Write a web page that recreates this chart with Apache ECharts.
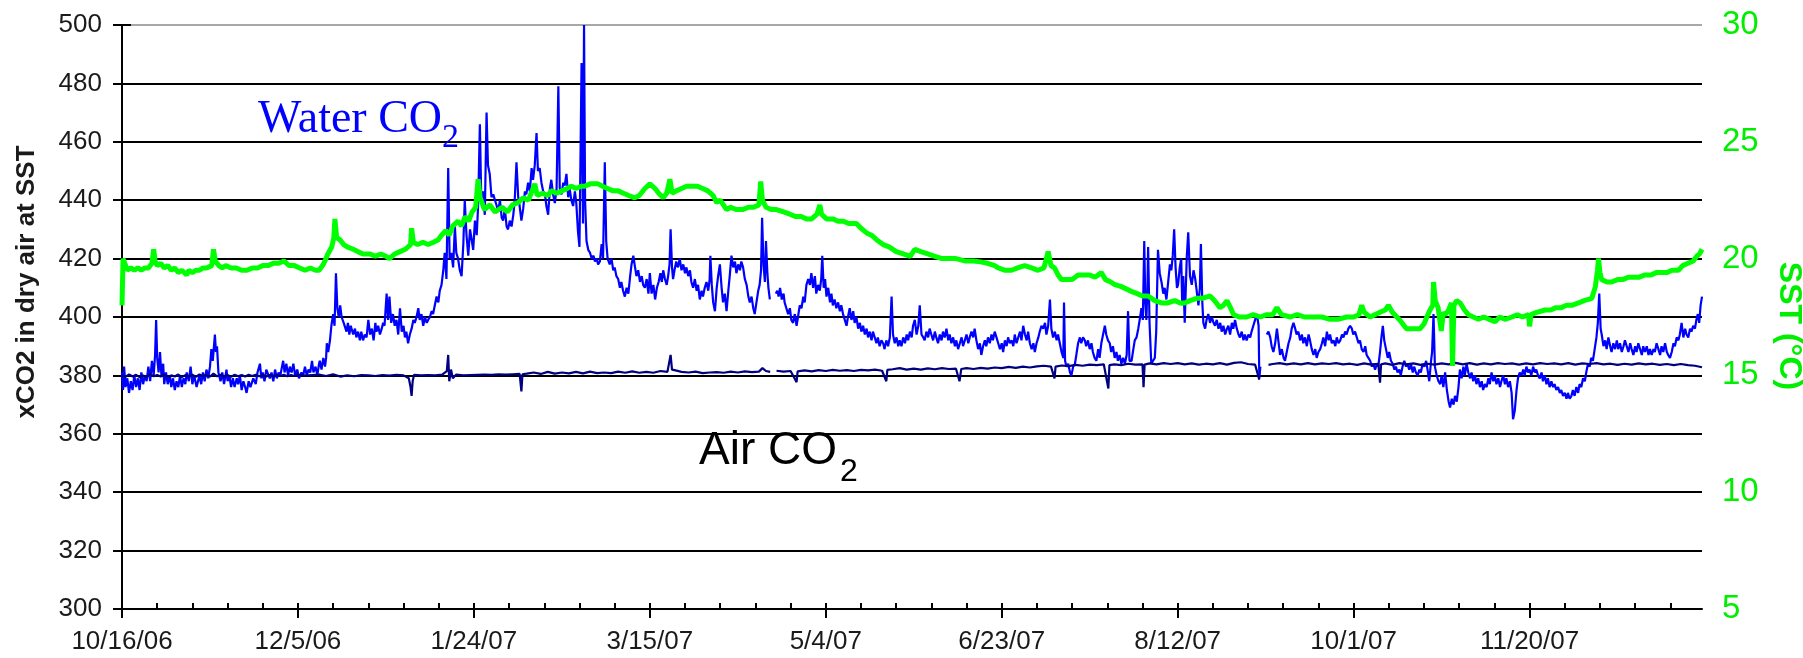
<!DOCTYPE html>
<html>
<head>
<meta charset="utf-8">
<script src="https://cdn.jsdelivr.net/npm/echarts@6/dist/echarts.min.js"></script>
<style>
html,body{margin:0;padding:0;background:#fff;}
#chart{width:1803px;height:658px;}
</style>
</head>
<body>
<div id="chart"></div>
<script>
// x values are days since 10/16/06
const startDate = [2006, 9, 16];
const majorTickDays = [0,50,100,150,200,250,300,350,400];
const minorTickDays = [0,10,20,30,40,50,60,70,80,90,100,110,120,130,140,150,160,170,180,190,200,210,220,230,240,250,260,270,280,290,300,310,320,330,340,350,360,370,380,390,400,410,420,430,440];
const dayMax = 449;
const co2Ticks = [300,500,20];
const sstTicks = [5,30,5];

// Water CO2 (xCO2, ppm)
const waterCO2 = [
[0,381],[0.3,375],[0.6,383],[1,376],[1.5,379],[2,374],[2.5,378],[3,375],[3.5,380],[4,376],[4.5,379],[5,375],[5.5,381],[6,377],[6.5,380],[7,378],[7.5,383],[8,378],[8.5,385],[9,380],[9.4,387],[9.7,399],[10,386],[10.4,381],[10.8,388],[11.2,380],[11.7,384],[12,377],[12.5,381],[13,377],[13.6,380],[14,376],[14.5,379],[15,375],[15.5,378],[16,376],[16.5,380],[17,376],[17.5,379],[18,377],[18.4,381],[19,378],[19.5,383],[20,377],[20.5,380],[21.2,376],[22,380],[22.5,377],[23,381],[23.5,378],[24,382],[24.5,379],[25,383],[25.4,389],[25.8,385],[26.2,391],[26.4,394],[26.7,388],[27,390],[27.4,381],[28,378],[28.5,381],[29,377],[29.7,382],[30,378],[30.5,380],[31,376],[31.5,379],[32,376],[32.6,379],[33,377],[33.5,380],[34,375],[34.5,378],[35,376],[35.4,374],[36,378],[36.5,376],[37.3,379],[38,377],[38.5,381],[39.2,384],[39.6,379],[40,381],[40.5,378],[41,382],[42,379],[42.5,381],[43,378],[43.5,382],[44,379],[44.5,381],[45,380],[45.8,385],[46.2,381],[46.7,384],[47.2,380],[47.7,383],[48.2,381],[48.7,384],[49.2,380],[49.8,382],[50.3,379],[51,381],[51.5,380],[52,383],[52.5,380],[53,382],[53.5,381],[54,385],[54.4,381],[55,383],[55.5,380],[56,384],[56.2,385],[56.7,382],[57.2,386],[57.7,383],[58,386],[58.2,391],[58.6,388],[59.1,392],[59.5,397],[60,401],[60.4,397],[60.8,415],[61.2,403],[61.6,400],[62,404],[62.4,400],[63,398],[63.8,395],[64.2,398],[64.6,394],[65,397],[65.7,394],[66.2,396],[66.6,393],[67.1,395],[67.6,392],[68,395],[68.5,392],[69,394],[69.5,393],[70,399],[70.5,394],[71,396],[71.5,392],[72,398],[72.3,395],[72.8,397],[73.3,394],[73.8,396],[74.2,398],[74.6,397],[75.2,408],[75.6,399],[76,407],[76.5,398],[77,401],[77.5,397],[78,399],[78.5,394],[79,403],[79.5,395],[80,397],[80.4,393],[80.8,395],[81.3,391],[81.8,394],[82.3,396],[82.8,399],[83.2,398],[83.7,400],[84.2,403],[84.6,399],[85.1,401],[85.6,397],[86.1,400],[86.6,398],[87,399],[87.5,400],[88,402],[88.4,401],[88.9,404],[89.4,407],[89.9,405],[90.3,409],[90.8,411],[91.3,416],[91.7,422],[92.2,413],[92.7,451],[93.1,420],[93.6,422],[94.1,417],[94.6,431],[95,422],[95.5,420],[96,416],[96.5,414],[97,425],[97.4,440],[97.9,428],[98.4,421],[98.9,430],[99.3,427],[99.8,423],[100.3,433],[100.8,428],[101.2,438],[101.7,466],[102.1,440],[102.6,443],[103.1,435],[103.6,470],[104,452],[104.5,449],[105,441],[105.5,442],[106,440],[106.5,438],[106.9,436],[107.4,440],[107.9,434],[108.3,433],[108.8,437],[109.3,431],[109.7,430],[110.2,433],[110.7,431],[111.2,435],[111.6,440],[112.1,453],[112.6,441],[113,438],[113.5,433],[114,437],[114.5,443],[114.9,442],[115.4,446],[115.9,443],[116.4,451],[116.8,447],[117.3,452],[117.8,463],[118.2,450],[118.7,451],[119.2,446],[119.7,443],[120.2,442],[120.6,438],[121.1,435],[121.6,444],[122,447],[122.5,442],[123,439],[123.5,444],[124,479],[124.4,444],[124.9,442],[125.4,446],[125.8,445],[126.3,449],[126.8,441],[127.2,444],[127.7,440],[128.2,438],[128.7,443],[129.1,439],[129.6,429],[130,424],[130.6,487],[131,432],[131.3,500],[131.6,440],[132,426],[132.5,423],[133,422],[133.5,420],[134,421],[134.4,419],[134.9,420],[135.3,418],[135.8,419],[136.3,425],[136.7,420],[137.2,453],[137.6,426],[138,420],[138.6,418],[139.1,420],[139.6,416],[140,417],[140.5,414],[141,413],[141.5,410],[141.9,412],[142.4,409],[142.9,407],[143.4,410],[143.9,408],[144.4,414],[144.8,418],[145.3,421],[145.8,417],[146.2,414],[146.7,416],[147.2,412],[147.7,414],[148.1,411],[148.6,410],[149.1,413],[149.6,408],
[150,415],[150.5,408],[151,411],[151.5,406],[152,410],[152.5,412],[153,415],[153.4,412],[153.8,416],[154.3,413],[154.8,411],[155.2,414],[155.6,418],[155.9,430],[156.3,417],[156.6,413],[157,416],[157.5,419],[158,417],[158.5,420],[159,416],[159.5,418],[160,415],[160.4,417],[160.9,414],[161.4,416],[161.8,412],[162.3,410],[162.8,413],[163.3,409],[163.7,411],[164.2,406],[164.7,409],[165.1,407],[165.6,410],[166.1,412],[166.6,409],[167,413],[167.2,421],[167.6,411],[168,405],[168.5,402],[169,410],[169.4,414],[169.9,418],[170.4,410],[170.8,405],[171.3,408],[171.8,402],[172.3,409],[172.7,414],[173.2,421],[173.7,417],[174.2,419],[174.6,415],[175.1,418],[175.6,416],[176,419],[176.5,417],[177,413],[177.5,411],[178,407],[178.4,405],[178.9,407],[179.4,403],[179.8,401],[180.3,405],[180.8,409],[181.2,411],[181.6,416],[181.9,434],[182.3,418],[182.7,412],[183,426],[183.4,415],[183.7,410],[184.1,406],[184.4,'-'],[185.8,408],[186.2,409],[186.6,407],[187,410],[187.5,406],[188,408],[188.3,405],[188.8,403],[189.3,401],[189.8,403],[190.2,399],[190.7,398],[191.2,401],[191.7,397],[192.1,400],[192.6,404],[193.1,403],[193.6,407],[194,405],[194.5,411],[195,413],[195.5,411],[195.9,415],[196.4,410],[196.9,414],[197.3,408],[197.8,411],[198.3,409],[198.7,413],[199,421],[199.4,410],[199.8,413],[200.2,407],[200.7,410],[201.2,405],[201.6,408],[202,404],[202.5,406],[203,403],[203.5,405],[204,402],[204.4,404],[204.9,401],[205.4,399],[205.9,397],[206.3,400],[206.8,403],[207.3,399],[207.8,402],[208.2,398],[208.7,400],[209.2,396],[209.7,398],[210.1,395],[210.6,397],[211.1,394],[211.6,396],[212,393],[212.5,395],[213,392],[213.4,395],[213.9,393],[214.4,391],[214.8,393],[215.3,390],[215.8,392],[216.3,391],[216.7,389],[217.2,392],[217.7,390],[218.2,393],[218.7,407],[219.1,394],[219.6,391],[220.1,393],[220.6,390],[221,392],[221.5,390],[222,393],[222.5,391],[223,394],[223.4,392],[223.9,395],[224.4,393],[224.8,397],[225.3,399],[225.8,394],[226.3,397],[226.7,404],[227.2,394],
[227.7,393],[228.1,392],[228.6,395],[229.1,393],[229.5,396],[230,394],[230.5,392],[231,395],[231.4,393],[231.9,391],[232.4,394],[232.9,392],[233.3,395],[233.8,393],[234.3,396],[234.8,392],[235.2,394],[235.7,391],[236.2,393],[236.7,390],[237.1,392],[237.6,389],[238.1,391],[238.6,393],[239,390],[239.5,392],[240,394],[240.5,391],[240.9,393],[241.4,395],[241.9,393],[242.3,396],[242.8,392],[243.3,389],[243.8,391],[244.2,387],[244.7,390],[245.2,392],[245.6,390],[246.1,393],[246.6,391],[247.1,394],[247.5,392],[248,395],[248.5,393],[249,391],[249.5,389],[250,391],[250.4,388],[250.9,392],[251.4,390],[251.8,393],[252.3,391],[252.8,392],[253.3,390],[253.7,394],[254.2,391],[254.7,393],[255.2,395],[255.6,392],[256.1,397],[256.6,394],[257.1,392],[257.5,395],[258,391],[258.5,389],[259,391],[259.4,388],[259.9,391],[260.4,393],[260.8,395],[261.3,397],[261.8,396],[262.3,398],[262.7,394],[263.2,397],[263.7,406],[264.1,396],[264.6,393],[265.1,395],[265.6,392],[266,394],[266.5,391],[267,388],[267.5,386],[267.7,405],[268,385],[268.4,383],[268.9,384],[269.4,381],[269.8,380],[270.3,383],[270.8,384],[271.2,387],[271.7,391],[272.2,393],[272.6,391],[273.1,393],[273.6,392],[274,390],[274.5,392],[275,389],[275.5,391],[275.9,388],[276.4,386],[276.9,385],[277.4,389],[277.8,386],[278.3,391],[278.8,394],[279.3,397],[279.7,394],[280.2,392],[280.7,391],[281.1,388],[281.6,390],[282.1,386],[282.6,388],[283,385],[283.5,387],[284,384],[284.5,386],[285,384],[285.5,387],[285.9,402],[286.3,385],[286.9,385],[287.4,389],[287.8,392],[288.3,393],[288.8,396],[289.2,399],[289.7,403],[290.1,399],[290.5,426],[290.8,405],[291.1,399],[291.4,410],[291.6,424],[292,398],[292.5,384],[293,385],[293.5,386],[293.9,395],[294.4,423],[294.9,415],[295.4,412],[295.9,408],[296.3,410],[296.8,406],[297.3,412],[297.8,418],[298.2,416],[298.6,421],[299,430],[299.4,417],[299.8,410],[300.1,411],[300.6,417],[301,420],[301.3,404],[301.6,414],[302,398],[302.6,421],[303,429],[303.5,414],[304,411],[304.5,416],[305,413],[305.5,408],[305.9,404],[306.3,410],[306.6,425],[307,405],[307.3,398],[307.8,396],[308.2,399],[308.7,401],[309.2,398],[309.7,400],[310.2,398],[310.6,397],[311.1,399],[311.6,396],[312.1,398],[312.5,395],[313,397],[313.5,394],[314,396],[314.4,397],[314.9,394],[315.4,398],[315.8,396],[316.3,399],[316.8,396],[317.3,394],[317.7,393],[318.2,395],[318.7,392],[319.1,394],[319.6,392],[320.1,394],[320.6,393],[321,395],[321.5,397],[322,399],[322.5,401],[323,397],[323.2,379],[323.5,383],[324.2,'-'],[325.3,394],[325.8,395],[326.3,393],[326.7,390],[327.2,388],[327.7,391],[328.2,396],[328.6,392],[329.1,387],[329.6,389],[330.1,386],[330.5,385],[331,388],[331.5,391],[332,393],[332.4,396],[332.9,398],[333.4,396],[333.8,394],[334.3,395],[334.8,392],[335.3,394],[335.7,391],[336.2,393],[336.7,390],[337.2,394],[337.6,392],[338.1,389],[338.6,387],[339.1,389],[339.5,386],[340,388],[340.5,389],[341,391],[341.4,393],[341.9,390],[342.4,395],[342.9,392],[343.3,394],[343.8,391],[344.3,392],[344.8,390],[345.2,393],[345.7,391],[346.2,392],[346.7,394],[347.1,393],[347.6,395],[348,394],[348.5,396],[349,397],[349.5,396],[349.9,394],[350.4,395],[350.9,393],[351.4,391],[351.8,392],[352.3,389],[352.8,388],[353.3,390],[353.7,387],[354.2,386],[354.7,385],[355.2,383],[355.6,384],[356.1,382],[356.6,384],[357,383],[357.5,388],[357.9,393],[358.3,397],[358.7,392],[359.2,389],[359.7,386],[360.1,388],[360.6,385],[361.1,384],[361.6,382],[362,383],[362.5,381],[363,382],[363.4,380],[363.9,383],[364.4,385],[364.9,383],[365.3,384],[365.8,382],[366.3,384],[366.8,381],[367.2,383],[367.7,381],[368.2,380],[368.7,382],[369.1,381],[369.6,384],[370.1,383],[370.6,385],[371,382],[371.5,378],[372,385],[372.3,388],[372.7,401],[373.1,383],[373.6,380],[374.1,378],[374.6,377],[375,380],[375.5,376],[376,381],[376.5,375],[377,371],[377.4,369],[377.9,372],[378.4,370],[378.8,373],[379.3,371],[379.8,376],[380.2,382],[380.7,379],[381.2,383],[381.6,380],[382.1,384],[382.6,381],[383.1,379],[383.5,381],[384,378],[384.5,380],[384.9,377],[385.4,379],[385.9,376],[386.4,378],[386.8,375],[387.3,377],[387.8,376],[388.3,379],[388.7,377],[389.2,381],[389.7,378],[390.1,380],[390.6,377],[391.1,379],[391.6,376],[392,378],[392.5,380],[393,377],[393.4,379],[393.9,376],[394.4,378],[394.9,374],[395.3,365],[395.8,368],[396.3,375],[396.7,379],[397.2,381],[397.7,380],[398.2,382],[398.6,380],[399.1,383],[399.6,381],[400,382],[400.5,380],[401,383],[401.5,381],[401.9,382],[402.4,380],[402.9,379],[403.4,381],[403.8,378],[404.3,380],[404.8,377],[405.2,379],[405.7,376],[406.2,378],[406.7,376],[407.1,377],[407.6,375],[408.1,376],[408.6,374],[409,375],[409.5,373],[410,374],[410.5,372],[410.9,374],[411.4,372],[411.9,373],[412.3,375],[412.8,373],[413.3,376],[413.8,374],[414.2,377],[414.7,376],[415.2,379],[415.7,378],[416.1,381],[416.6,384],[417.1,383],[417.5,386],[418,385],[418.5,389],[419,393],[419.4,398],[419.8,408],[420.2,396],[420.5,394],[421,390],[421.5,392],[421.9,389],[422.4,393],[422.9,390],[423.3,388],[423.8,391],[424.3,389],[424.8,392],[425.2,389],[425.7,391],[426.2,388],[426.7,390],[427.1,392],[427.6,390],[428.1,388],[428.6,391],[429,389],[429.5,387],[430,390],[430.4,388],[430.9,391],[431.4,389],[431.9,387],[432.3,390],[432.8,388],[433.3,390],[433.8,387],[434.2,389],[434.7,387],[435.2,389],[435.6,388],[436.1,391],[436.6,389],[437.1,387],[437.5,390],[438,388],[438.5,391],[439,388],[439.4,387],[439.9,386],[440.4,388],[440.9,391],[441.3,390],[441.8,393],[442.3,392],[442.7,394],[443.2,398],[443.7,393],[444.2,396],[444.6,394],[445.1,393],[445.6,396],[446,395],[446.5,397],[447,396],[447.4,399],[447.8,401],[448.2,398],[448.6,404],[449,407]
];

// Air CO2 (xCO2, ppm)
const airCO2 = [
[0,380],[1,379.5],[2,380.3],[3,379.6],[4,380.2],[5,379.4],[6,380],[7,379.5],[8,380.4],[9,379.7],[10,380.1],[11,379.6],[12,380.2],[13,379.5],[14,380],[15,379.6],[16,380.3],[17,379.4],[18,380.1],[19,379.6],[20,380.2],[21,379.5],[22,380.3],[23,379.8],[24,380.1],[25,379.6],[26,380.6],[27,379.7],[28,380.2],[29,379.6],[30,380.1],[31,379.5],[32,380.2],[33,379.7],[34,380.1],[35,379.6],[36,380.2],[37,379.8],[38,380.2],[39,379.7],[40,380],[41,379.6],[42,380.1],[43,379.6],[44,380.1],[45,379.8],[46,380.2],[47,379.7],[48,380.1],[49,379.8],[50,380.2],[52,379.9],[54,380.1],[56,380.3],[58,379.8],[60,380.4],[62,379.6],[64,380],[66,379.7],[68,380.1],[70,380],[72,379.8],[74,380.1],[76,379.9],[78,380.2],[80,380],[81.5,379],[82,376],[82.3,373],[82.6,378],[83,380.2],[85,380],[87,380.1],[89,380],[91,380.3],[92.3,381.5],[92.7,387],[93,378],[93.5,382],[94,379],[95,380.3],[97,380],[99,380.1],[101,380.2],[103,380.3],[105,380.2],[107,380.4],[109,380.3],[111,380.4],[113,380.5],[113.5,374.5],[113.8,380.4],[115,380.6],[117,381],[119,380.5],[121,381.2],[123,380.6],[125,381],[127,380.7],[129,381.2],[131,380.7],[133,381.3],[135,380.8],[137,381],[139,380.8],[141,381.3],[143,380.9],[145,381.4],[147,380.9],[149,381.2],[151,380.9],[153,381.5],[155,381.2],[155.9,387],[156.3,382],[157,381.8],[159,381.2],[161,381],[163,381.3],[165,380.8],[167,381],[169,381.1],[171,380.9],[173,381.3],[175,381],[177,381.4],[179,381.1],[181,381.3],[182,382.5],[183,381.5],[184.2,381.2],[184.6,'-'],[186,381.6],[188,381.3],[190,381.5],[191.7,377.7],[192,381.4],[194,381.7],[196,381.4],[198,381.8],[200,381.5],[202,381.9],[204,381.6],[206,381.8],[208,381.5],[210,381.9],[212,381.7],[214,382],[216,381.6],[217.2,378],[217.5,381.9],[219,382.1],[221,382.5],[223,382],[225,382.3],[227,382],[229,382.4],[231,382.1],[233,382.5],[235,382.2],[237,382.3],[238,378],[238.5,382.2],[240,382.5],[242,382.2],[244,382.6],[246,382.3],[248,382.7],[250,382.5],[252,382.9],[254,382.6],[256,383],[258,382.7],[260,383.1],[262,383.3],[264,383],[265,379],[265.3,383],[267,383.4],[269,383.2],[271,383.6],[273,383.3],[275,383.7],[277,383.5],[279,383.8],[280.3,375.5],[280.6,383.5],[282,383.8],[284,383.5],[286,384],[288,383.7],[290,383.8],[290.3,376],[290.6,383.7],[292,384.1],[294,383.8],[296,384.2],[298,383.9],[300,384.2],[302,383.8],[304,384.1],[306,383.7],[308,384],[310,383.8],[312,384.2],[314,383.7],[316,384.3],[318,384.5],[320,383.9],[322,383.7],[323.2,378.5],[323.5,'-'],[325.8,383.6],[327,383.9],[329,384.2],[331,383.8],[333,384.1],[335,383.8],[337,384.2],[339,383.8],[341,384.1],[343,383.9],[345,384.2],[347,383.8],[349,384],[351,383.6],[353,384.1],[355,383.7],[357,384],[357.5,377.5],[357.8,383.8],[359,384.1],[361,383.6],[363,384.2],[365,383.8],[367,384.1],[369,383.6],[371,384],[373,383.7],[375,384.1],[377,383.8],[379,384.3],[381,383.8],[383,384.2],[385,383.7],[387,384.1],[389,383.8],[391,384.2],[393,383.9],[395,384.1],[397,383.7],[399,384.1],[401,383.8],[403,384.2],[405,383.9],[407,384.1],[409,383.8],[411,384.2],[413,383.7],[415,384.1],[417,383.9],[419,384.2],[421,383.8],[423,384],[425,383.6],[427,384],[429,383.7],[431,384.1],[433,383.8],[435,384],[437,383.6],[439,383.9],[441,383.5],[443,383.9],[445,383.5],[447,383.3],[449,382.8]
];

// SST (deg C)
const sst = [
[0,18.0],[0.3,20.0],[0.8,19.8],[1.5,19.5],[2.5,19.6],[3.5,19.5],[4.5,19.6],[5.5,19.5],[6.5,19.6],[7.5,19.6],[8.5,19.8],[9,20.4],[9.4,19.9],[10,19.7],[11,19.8],[12,19.6],[13,19.7],[14,19.5],[15,19.6],[16,19.4],[17,19.5],[18.4,19.3],[19,19.5],[20,19.4],[21,19.5],[22,19.5],[23,19.6],[24,19.6],[25.5,19.7],[26,20.4],[26.5,19.9],[27.5,19.7],[28.5,19.6],[29.5,19.7],[31,19.6],[32.5,19.6],[34,19.5],[35.5,19.5],[37,19.6],[38.5,19.6],[40,19.7],[41.5,19.7],[43,19.8],[44.5,19.8],[46,19.9],[47.5,19.7],[49,19.7],[50.5,19.6],[52,19.5],[53.5,19.6],[55,19.5],[56,19.5],[57,19.7],[57.7,19.9],[58.5,20.2],[59.6,20.5],[60.2,20.9],[60.5,21.7],[61,20.9],[62,20.8],[63,20.6],[64,20.5],[65.7,20.4],[67,20.3],[68.5,20.2],[70.5,20.2],[72,20.1],[73.5,20.2],[75,20.1],[76,20.0],[77.5,20.2],[79,20.3],[80.5,20.4],[82,20.6],[82.3,21.3],[82.8,20.7],[84,20.6],[85.5,20.7],[87,20.6],[88.5,20.7],[89.8,20.8],[90.8,21.0],[92,21.2],[93,21.0],[94,21.4],[95.5,21.6],[96.5,21.4],[97.5,21.8],[98.5,21.6],[99.5,22.0],[100.5,22.2],[101.2,23.4],[101.8,22.6],[103,22.1],[104.5,22.3],[106,22.0],[108,22.2],[109.5,22.0],[111,22.3],[112.6,22.4],[114,22.6],[115.5,22.5],[117.3,23.2],[118,22.7],[119.5,22.8],[121,22.7],[122,22.9],[123.5,22.8],[125,22.9],[126.5,23.0],[127.7,23.1],[129,23.0],[130.5,23.1],[131.5,23.1],[133,23.2],[134.3,23.2],[135.3,23.2],[136.5,23.1],[138,23.0],[139.5,22.9],[141,22.9],[142.5,22.8],[144,22.7],[145.7,22.6],[147,22.7],[148.6,23.0],[150,23.2],[151.5,23.0],[152.5,22.8],[153.8,22.6],[154.8,22.8],[155.7,23.4],[156.3,22.8],[157.5,22.9],[159,23.0],[160.5,23.1],[162.3,23.1],[163.5,23.1],[165,23.0],[166.5,22.9],[168,22.7],[169,22.4],[170,22.5],[171.8,22.1],[173,22.2],[174.5,22.1],[176.5,22.1],[178,22.2],[179.5,22.2],[181,22.3],[181.5,23.3],[182,22.5],[183,22.2],[184.5,22.1],[186,22.1],[188,22.0],[189.8,21.9],[191.5,21.8],[193,21.8],[194.5,21.7],[196,21.7],[197.5,21.9],[198.3,22.3],[198.8,21.9],[200.2,21.7],[202,21.7],[203.5,21.6],[205,21.6],[206.5,21.5],[208.7,21.5],[210,21.3],[211.6,21.1],[213,21.0],[214.5,20.8],[216.3,20.6],[218,20.5],[220,20.3],[222,20.2],[224,20.1],[225.3,20.4],[227,20.3],[229,20.2],[231,20.1],[233,20.0],[235,20.0],[237,20.0],[239.5,19.9],[242,19.9],[244,19.86],[246,19.8],[248,19.7],[249,19.6],[251,19.5],[252.8,19.5],[254.5,19.6],[256.5,19.7],[258.5,19.6],[260.3,19.5],[262,19.6],[263.2,20.3],[264,19.7],[265,19.6],[266,19.3],[267,19.1],[268.5,19.1],[270,19.1],[271.7,19.3],[273.5,19.3],[275,19.3],[276.5,19.2],[278.3,19.4],[279.5,19.1],[281,19.0],[282,18.9],[284,18.8],[286.8,18.6],[288.5,18.5],[290,18.4],[291.6,18.4],[293.5,18.2],[295.4,18.1],[297,18.1],[299.2,18.2],[300.7,18.1],[302,18.1],[303.5,18.2],[305.4,18.3],[307,18.3],[309.2,18.4],[310.5,18.2],[312,17.9],[313,18.0],[314,18.2],[315,17.9],[315.9,17.6],[317.5,17.5],[319.6,17.5],[321.5,17.6],[323.5,17.5],[325.3,17.6],[327,17.6],[328.2,17.9],[329.5,17.6],[332,17.5],[334,17.6],[336,17.5],[338.6,17.5],[341,17.5],[343.3,17.4],[345.5,17.4],[348,17.5],[350,17.5],[351.5,17.6],[352.3,18.0],[353,17.7],[354.7,17.5],[356,17.6],[357.5,17.7],[359,17.8],[359.9,18.0],[361,17.7],[362.3,17.5],[363.5,17.3],[365,17.0],[367,17.0],[368.9,17.0],[370,17.2],[370.8,17.5],[371.7,17.8],[372.5,18.0],[372.7,19.0],[373.2,18.2],[374,17.9],[374.9,16.9],[375.5,17.7],[376,17.6],[377,17.8],[377.8,18.1],[378.1,15.4],[378.5,18.0],[379.3,18.2],[380.3,18.1],[381.5,17.8],[382.6,17.6],[384,17.5],[385.5,17.4],[387,17.5],[388.5,17.4],[390.2,17.3],[391.5,17.5],[393,17.4],[395,17.5],[396.5,17.6],[398,17.5],[399.7,17.6],[400,17.1],[400.4,17.6],[402,17.7],[404.4,17.8],[406,17.8],[407.5,17.9],[409,17.9],[410.5,18.0],[412,18.0],[413.9,18.1],[415.5,18.2],[417.7,18.3],[418.7,18.8],[419.3,19.5],[419.6,20.0],[420,19.4],[420.5,19.1],[422,19.0],[423.3,19.0],[425,19.1],[426.5,19.1],[428,19.2],[429.5,19.2],[431,19.2],[432.8,19.3],[434.5,19.3],[436,19.4],[437.6,19.4],[439,19.4],[440.5,19.5],[442.3,19.5],[443.5,19.7],[445,19.8],[446.5,19.9],[447.5,20.1],[448.3,20.2],[449,20.4]
];

const baseMs = Date.UTC(startDate[0], startDate[1], startDate[2]);
function dayLabel(d) {
  const dt = new Date(baseMs + Math.round(d) * 86400000);
  return (dt.getUTCMonth() + 1) + '/' + dt.getUTCDate() + '/' + String(dt.getUTCFullYear()).slice(2);
}

const chart = echarts.init(document.getElementById('chart'), null, {renderer: 'canvas'});
const gridColors = ['#000','#000','#000','#000','#000','#000','#000','#000','#000','#000','#a8a8a8'];
const font = 'Liberation Sans, Arial, sans-serif';

chart.setOption({
  animation: false,
  backgroundColor: '#fff',
  grid: {left: 122, right: 101, top: 25, bottom: 49, containLabel: false, outerBoundsMode: 'none'},
  xAxis: [{
    type: 'value', min: 0, max: dayMax, interval: 50, position: 'bottom',
    axisLine: {show: true, onZero: false, lineStyle: {color: '#000', width: 2}},
    axisTick: {show: true, customValues: majorTickDays, length: 9, lineStyle: {color: '#000', width: 2}},
    axisLabel: {show: true, customValues: majorTickDays, formatter: dayLabel,
      fontSize: 26, fontFamily: font, color: '#1a1a1a', margin: 20},
    splitLine: {show: false}
  }, {
    type: 'value', min: 0, max: dayMax, interval: 10, position: 'bottom',
    axisLine: {show: false},
    axisTick: {show: true, inside: true, customValues: minorTickDays, length: 6, lineStyle: {color: '#000', width: 2}},
    axisLabel: {show: false},
    splitLine: {show: false}
  }],
  yAxis: [{
    type: 'value', min: co2Ticks[0], max: co2Ticks[1], interval: co2Ticks[2], position: 'left',
    axisLine: {show: true, lineStyle: {color: '#000', width: 2}},
    axisTick: {show: true, length: 9, lineStyle: {color: '#000', width: 2}},
    axisLabel: {fontSize: 26, fontFamily: font, color: '#1a1a1a', margin: 20},
    splitLine: {show: true, lineStyle: {color: gridColors, width: 2}}
  }, {
    type: 'value', min: sstTicks[0], max: sstTicks[1], interval: sstTicks[2], position: 'right',
    axisLine: {show: true, lineStyle: {color: '#000', width: 2}},
    axisTick: {show: true, length: 9, lineStyle: {color: '#000', width: 2}},
    axisLabel: {fontSize: 33, fontFamily: font, color: '#00ee00', margin: 20},
    splitLine: {show: false}
  }],
  graphic: [
    {type: 'text', x: 27, y: 282, rotation: Math.PI / 2,
      style: {text: 'xCO2 in dry air at SST', font: 'bold 26px ' + font, fill: '#1a1a1a', align: 'center', verticalAlign: 'middle'}},
    {type: 'text', x: 1789, y: 326, rotation: -Math.PI / 2,
      style: {text: 'SST (°C)', font: 'bold 32px ' + font, fill: '#00ee00', align: 'center', verticalAlign: 'middle'}},
    {type: 'text', x: 258, y: 120, z: 100,
      style: {text: 'Water CO', font: '46px Liberation Serif, Times New Roman, serif', fill: '#0000ff', align: 'left', verticalAlign: 'middle'}},
    {type: 'text', x: 442, y: 138, z: 100,
      style: {text: '2', font: '34px Liberation Serif, Times New Roman, serif', fill: '#0000ff', align: 'left', verticalAlign: 'middle'}},
    {type: 'text', x: 699, y: 451, z: 100,
      style: {text: 'Air CO', font: '46px ' + font, fill: '#000', align: 'left', verticalAlign: 'middle'}},
    {type: 'text', x: 840, y: 472, z: 100,
      style: {text: '2', font: '32px ' + font, fill: '#000', align: 'left', verticalAlign: 'middle'}}
  ],
  series: [{
    name: 'Water CO2', type: 'line', xAxisIndex: 0, yAxisIndex: 0, data: waterCO2,
    showSymbol: false, symbol: 'none', connectNulls: false,
    lineStyle: {color: '#0000ff', width: 2.2}, itemStyle: {color: '#0000ff'}
  }, {
    name: 'Air CO2', type: 'line', xAxisIndex: 0, yAxisIndex: 0, data: airCO2,
    showSymbol: false, symbol: 'none', connectNulls: false,
    lineStyle: {color: '#000080', width: 2.2}, itemStyle: {color: '#000080'}
  }, {
    name: 'SST', type: 'line', xAxisIndex: 0, yAxisIndex: 1, data: sst,
    showSymbol: false, symbol: 'none',
    lineStyle: {color: '#00ff00', width: 5}, itemStyle: {color: '#00ff00'}
  }]
});
</script>
</body>
</html>
